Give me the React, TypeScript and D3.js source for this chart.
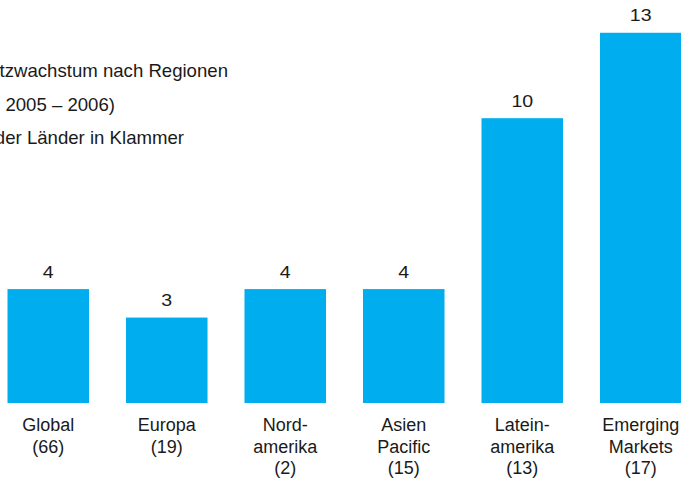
import React from "react";
import * as d3 from "d3";

const categories = ["Global", "Europa", "Nordamerika", "Asien Pacific", "Lateinamerika", "Emerging Markets"];
const labelLines = [["Global"], ["Europa"], ["Nord-", "amerika"], ["Asien", "Pacific"], ["Latein-", "amerika"], ["Emerging", "Markets"]];
const countryCounts = [66, 19, 2, 15, 13, 17];
const growth = [4, 3, 4, 4, 10, 13];
const titleLines = ["Umsatzwachstum nach Regionen", "(in %, 2005 – 2006)", "Anzahl der Länder in Klammer"];

const W = 681;
const H = 479;
const FONT = "'Liberation Sans', Arial, Helvetica, sans-serif";
const BAR = "#00AEEF";
const INK = "#1a1a1a";

export default function App() {
  const x = d3.scaleBand<string>().domain(categories).range([7.5, 681.5]).paddingInner(0.312).paddingOuter(0);
  const y = d3.scaleLinear().domain([0, 13]).range([403, 403 - 13 * 28.48]);
  const titleEnds = [228, 115, 184];

  return (
    <svg width={W} height={H} style={{ position: "absolute", left: 0, top: 0, background: "#fff" }} fontFamily={FONT}>
      <rect x={0} y={0} width={W} height={H} fill="#fff" />
      {titleLines.map((t, i) => (
        <text key={t} x={titleEnds[i]} y={77 + i * 33.5} textAnchor="end" fontSize={18.6} fill={INK}>
          {t}
        </text>
      ))}
      {categories.map((c, i) => {
        const bx = x(c)!;
        const bw = x.bandwidth();
        const cx = bx + bw / 2;
        const lines = [...labelLines[i], `(${countryCounts[i]})`];
        return (
          <g key={c}>
            <rect x={bx} y={y(growth[i])} width={bw} height={y(0) - y(growth[i])} fill={BAR} />
            <text x={cx} y={y(growth[i]) - 11.5} textAnchor="middle" fontSize={17} fill={INK}
              transform={`translate(${cx},0) scale(1.15,1) translate(${-cx},0)`}>
              {d3.format("d")(growth[i])}
            </text>
            {lines.map((l, j) => (
              <text key={j} x={cx} y={431 + j * 21.5} textAnchor="middle" fontSize={18} fill={INK}>
                {l}
              </text>
            ))}
          </g>
        );
      })}
    </svg>
  );
}
